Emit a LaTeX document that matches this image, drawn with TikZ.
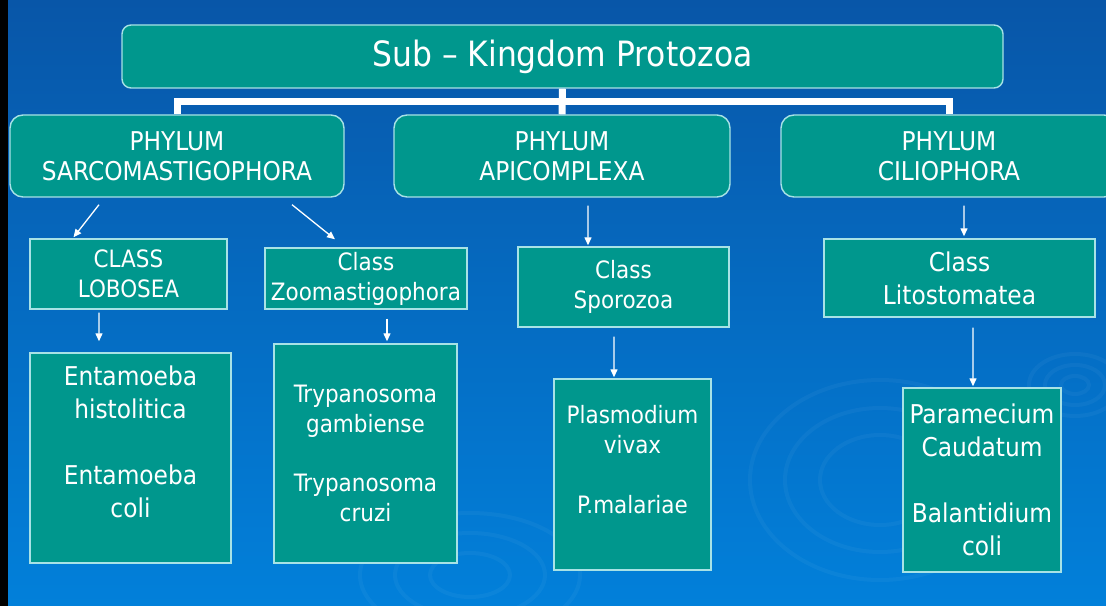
\documentclass[tikz,border=0pt]{standalone}
\usepackage{fontspec}
\setmainfont{DejaVu Sans Condensed}
\usetikzlibrary{arrows.meta}
\definecolor{TaxSky}{RGB}{8,86,168}
\definecolor{TaxSkyLow}{RGB}{2,128,218}
\definecolor{TaxTeal}{RGB}{0,151,141}
\definecolor{TaxEdge}{RGB}{168,226,230}
\tikzset{
  tax box/.style={
    draw=TaxEdge,
    line width=1.4bp,
    fill=TaxTeal,
    text=white,
    align=center,
    inner sep=2bp
  },
  tax title/.style={tax box, rounded corners=9bp, font=\fontsize{35}{40}\selectfont},
  tax phylum/.style={tax box, rounded corners=13bp, font=\fontsize{26}{30}\selectfont},
  tax class/.style={tax box, font=\fontsize{24}{30}\selectfont},
  tax big/.style={tax box, font=\fontsize{26}{33}\selectfont},
  tax trunk/.style={draw=white, line width=7bp},
  tax arrow/.style={-{Triangle[length=8bp,width=7bp]}, draw=white, line width=1.3bp},
  tax ripple/.style={draw=white, opacity=0.04, line width=4bp}
}
\begin{document}
\begin{tikzpicture}[x=1bp,y=-1bp]
\clip (0,0) rectangle (1106,606);
\shade[top color=TaxSky, bottom color=TaxSkyLow] (0,0) rectangle (1106,606);
\fill[black] (0,0) rectangle (8,606);
% faint ripples
\draw[tax ripple] (1075,385) ellipse (14 and 9) (1075,385) ellipse (30 and 20) (1075,385) ellipse (46 and 31);
\draw[tax ripple] (880,480) ellipse (60 and 45) (880,480) ellipse (95 and 72) (880,480) ellipse (130 and 100);
\draw[tax ripple] (470,575) ellipse (40 and 22) (470,575) ellipse (75 and 42) (470,575) ellipse (110 and 62);
% kingdom and phyla
\node[tax title, minimum width=881bp, minimum height=63bp] (top) at (562.5,56.5) {Sub – Kingdom Protozoa};
\node[tax phylum, minimum width=334bp, minimum height=82bp] (sarco) at (177,156) {PHYLUM\\SARCOMASTIGOPHORA};
\node[tax phylum, minimum width=336bp, minimum height=82bp] (apic) at (562,156) {PHYLUM\\APICOMPLEXA};
\node[tax phylum, minimum width=336bp, minimum height=82bp] (cilio) at (949,156) {PHYLUM\\CILIOPHORA};
% classes
\node[tax class, minimum width=197bp, minimum height=70bp] (lobo) at (128.5,274) {CLASS\\LOBOSEA};
\node[tax class, minimum width=202bp, minimum height=61bp] (zoo) at (366,278.5) {Class\\Zoomastigophora};
\node[tax class, minimum width=211bp, minimum height=80bp] (sporo) at (623.5,287) {Class\\Sporozoa};
\node[tax big, minimum width=271bp, minimum height=78bp] (lito) at (959.5,278) {Class\\Litostomatea};
% species
\node[tax big, minimum width=201bp, minimum height=210bp] (enta) at (130.5,458) {Entamoeba\\histolitica\\[33bp]Entamoeba\\coli\\[0bp]\mbox{}};
\node[tax class, minimum width=183bp, minimum height=219bp] (trypa) at (365.5,453.5) {Trypanosoma\\gambiense\\[30bp]Trypanosoma\\cruzi};
\node[tax class, minimum width=157bp, minimum height=191bp] (plasmo) at (632.5,474.5) {Plasmodium\\vivax\\[30bp]P.malariae\\[0bp]\mbox{}};
\node[tax big, minimum width=158bp, minimum height=184bp] (param) at (982,480) {Paramecium\\Caudatum\\[33bp]Balantidium\\coli};
% tree
\coordinate (fork) at (562,101.5);
\draw[tax trunk] (top.south) -- (apic.north);
\draw[tax trunk] (sarco.north) |- (fork) -| (cilio.north);
\draw[tax arrow] ([xshift=-78bp,yshift=-7bp]sarco.south) -- ([xshift=-55bp,yshift=1bp]lobo.north);
\draw[tax arrow] ([xshift=115bp,yshift=-7bp]sarco.south) -- ([xshift=-31bp,yshift=8bp]zoo.north);
\draw[tax arrow] ([xshift=26bp,yshift=-8bp]apic.south) -- ([xshift=-35.5bp,yshift=1bp]sporo.north);
\draw[tax arrow] ([xshift=15bp,yshift=-8bp]cilio.south) -- ([xshift=4.5bp,yshift=2bp]lito.north);
\draw[tax arrow] ([xshift=-29.5bp,yshift=-3bp]lobo.south) -- ([xshift=-31.5bp,yshift=11bp]enta.north);
\draw[tax arrow] ([xshift=21bp,yshift=-9bp]zoo.south) -- ([xshift=21.5bp,yshift=2bp]trypa.north);
\draw[tax arrow] ([xshift=-9.5bp,yshift=-9bp]sporo.south) -- ([xshift=-18.5bp,yshift=1bp]plasmo.north);
\draw[tax arrow] ([xshift=13.5bp,yshift=-10bp]lito.south) -- ([xshift=-9bp,yshift=1bp]param.north);
\end{tikzpicture}
\end{document}
